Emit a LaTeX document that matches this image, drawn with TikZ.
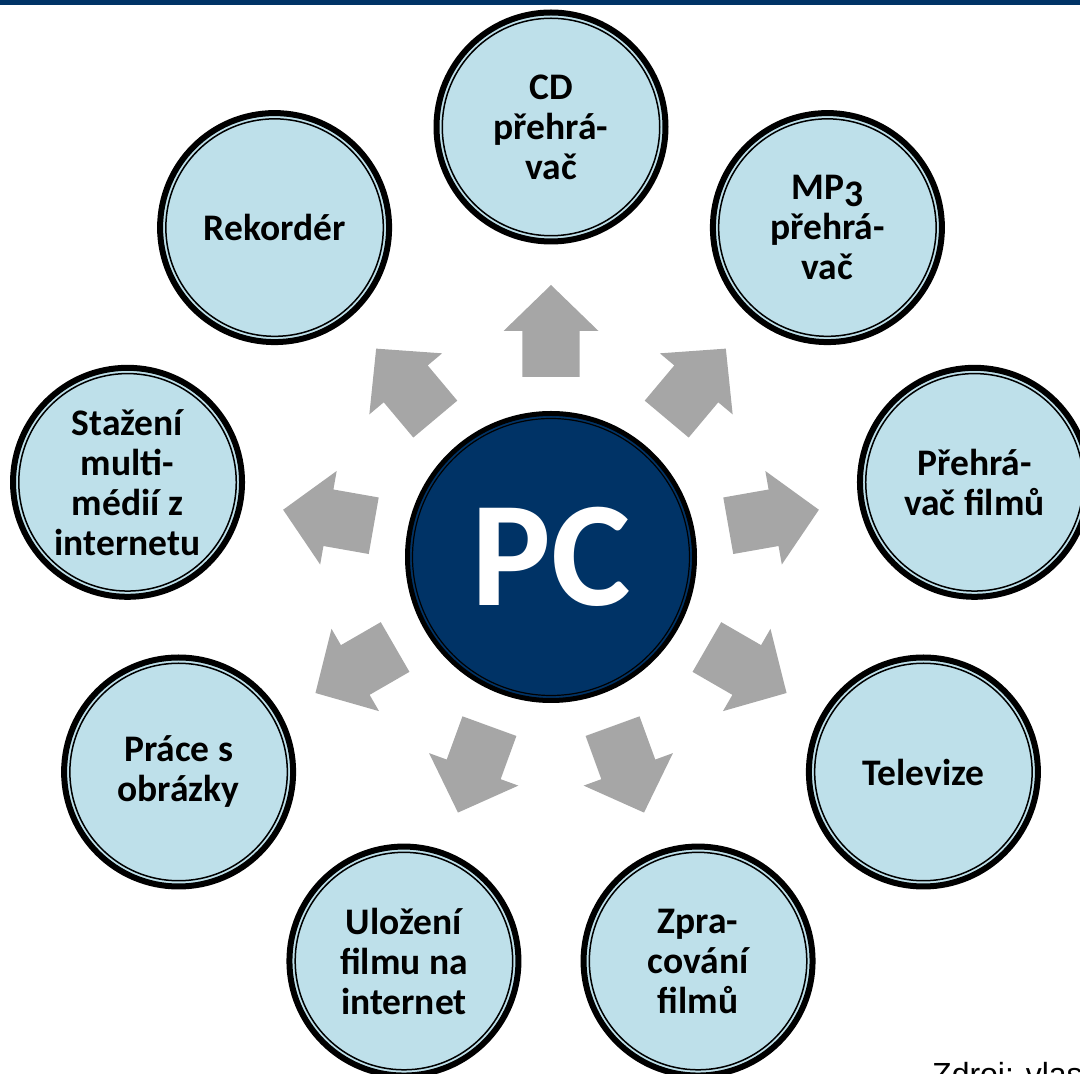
\documentclass[tikz,border=0pt]{standalone}
\usepackage{fontspec}
\setmainfont{Carlito}
\newfontfamily\zdrojfont{Liberation Sans}
\definecolor{navy}{RGB}{0,51,102}
\definecolor{lblue}{RGB}{190,224,234}
\definecolor{agrey}{RGB}{166,166,166}
\tikzset{
  outer/.style={circle, fill=lblue, draw=black, line width=6pt, minimum size=229pt,
    inner sep=0pt, align=center, font=\bfseries\fontsize{37.5}{40}\selectfont},
  innerring/.style={draw=black, line width=1.5pt},
  pcnode/.style={circle, fill=navy, draw=black, line width=5pt, minimum size=287pt,
    inner sep=0pt, text=white, font=\bfseries\fontsize{150}{150}\selectfont},
  blockarrow/.style={fill=agrey},
}
\newcommand{\oldthree}{\raisebox{-0.19em}{3}}
\begin{document}
\begin{tikzpicture}[x=1pt,y=1pt]
\useasboundingbox (0,0) rectangle (1080,1074);
\fill[navy] (0,1069) rectangle (1080,1074);
\coordinate (c) at (551,517);
% block arrows
\foreach \a in {90,50,...,-230}{
  \fill[blockarrow,shift={(c)},rotate=\a] (180,-28.7) -- (226,-28.7) -- (226,-47.5) -- (272,0)
     -- (226,47.5) -- (226,28.7) -- (180,28.7) -- cycle;
}
% centre
\node[pcnode] (pc) at (c) {PC};
\draw[line width=1.2pt] (pc.center) circle (138.5);
% outer circles
\node[outer] (cd)   at ([shift={(90:430)}]c)   {CD\\přehrá-\\vač};
\node[outer] (mp3)  at ([shift={(50:430)}]c)   {MP\oldthree\\přehrá-\\vač};
\node[outer] (film) at ([shift={(10:430)}]c)   {Přehrá-\\vač filmů};
\node[outer] (tv)   at ([shift={(-30:430)}]c)  {Televize};
\node[outer] (zpr)  at ([shift={(-70:430)}]c)  {Zpra-\\cování\\filmů};
\node[outer] (ulo)  at ([shift={(-110:430)}]c) {Uložení\\filmu na\\internet};
\node[outer] (pra)  at ([shift={(-150:430)}]c) {Práce s\\obrázky};
\node[outer] (sta)  at ([shift={(170:430)}]c)  {Stažení\\multi-\\médií z\\internetu};
\node[outer] (rek)  at ([shift={(130:430)}]c)  {Rekordér};
\foreach \n in {cd,mp3,film,tv,zpr,ulo,pra,sta,rek}{
  \draw[innerring] (\n.center) circle (108.75);
}
\node[anchor=base west, inner sep=0pt, font=\zdrojfont\fontsize{32}{36}\selectfont] (src) at (932,-12) {Zdroj: vlastní};
\end{tikzpicture}
\end{document}
